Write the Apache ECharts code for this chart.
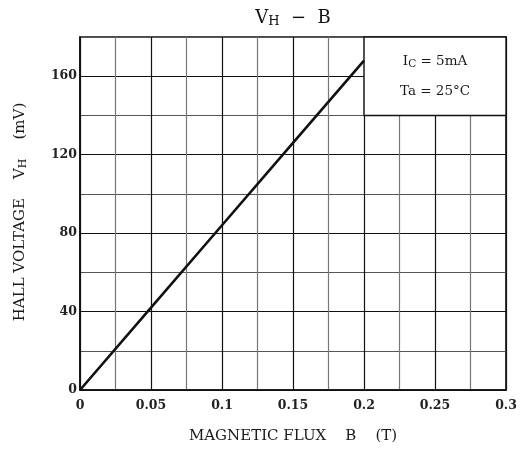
<!DOCTYPE html>
<html><head><meta charset="utf-8">
<script src="https://cdn.jsdelivr.net/npm/echarts@6/dist/echarts.min.js"></script>
<style>html,body{margin:0;padding:0;background:#fff}#c{width:521px;height:450px}</style>
</head><body><div id="c"></div>
<script>
const fluxB = [0, 0.05, 0.1, 0.15, 0.2];
const hallVoltage = [0, 42, 84, 126, 168];
const xTickStep = 0.025;
const yTickStep = 20;
const noteBox = [[0.2, 140], [0.3, 180]];

const F = 'DejaVu Serif';
const chart = echarts.init(document.getElementById('c'));
chart.setOption({
  backgroundColor: '#fff',
  animation: false,
  grid: {left: 80, right: 15, top: 37, bottom: 60, show: true, borderColor: '#111', borderWidth: 1.6, backgroundColor: 'transparent'},
  xAxis: {
    type: 'value', min: 0, max: 0.3, interval: xTickStep,
    axisLine: {show: true, lineStyle: {color: '#111', width: 1.6}},
    axisTick: {show: false},
    axisLabel: {fontFamily: F, fontWeight: 'bold', fontSize: 12.5, color: '#222', margin: 9,
      formatter: v => { const k = v / 0.05; return Math.abs(k - Math.round(k)) < 1e-6 ? String(+v.toFixed(3)) : ''; }},
    splitLine: {show: true, lineStyle: {color: ['#111', '#777'], width: 1.2}}
  },
  yAxis: {
    type: 'value', min: 0, max: 180, interval: yTickStep,
    axisLine: {show: true, lineStyle: {color: '#111', width: 1.6}},
    axisTick: {show: false},
    axisLabel: {fontFamily: F, fontWeight: 'bold', fontSize: 12.5, color: '#222', margin: 3,
      formatter: v => (v % 40 === 0 && v < 180) ? String(v) : ''},
    splitLine: {show: true, lineStyle: {color: ['#111', '#555'], width: 1.2}}
  },
  graphic: [
    {type: 'text', x: 293, y: 18, style: {
      text: '{m|V}{s|H}{m|  −  B}', align: 'center', verticalAlign: 'middle',
      rich: {m: {fontFamily: F, fontSize: 18, fill: '#111'}, s: {fontFamily: F, fontSize: 13, fill: '#111', padding: [8, 0, 0, 0]}}}},
    {type: 'text', x: 293, y: 436, style: {text: 'MAGNETIC FLUX    B    (T)', align: 'center', verticalAlign: 'middle', fontFamily: F, fontSize: 15, fill: '#1a1a1a'}},
    {type: 'text', x: 20, y: 212, rotation: Math.PI / 2, style: {
      text: '{m|HALL VOLTAGE    V}{s|H}{m|    (mV)}', align: 'center', verticalAlign: 'middle',
      rich: {m: {fontFamily: F, fontSize: 15, fill: '#1a1a1a'}, s: {fontFamily: F, fontSize: 11, fill: '#1a1a1a', padding: [6, 0, 0, 0]}}}}
  ],
  series: [{
    type: 'line', data: fluxB.map((b, i) => [b, hallVoltage[i]]),
    showSymbol: false, lineStyle: {color: '#111', width: 2.6}, z: 5,
    markArea: {
      silent: true,
      itemStyle: {color: '#fff', borderColor: '#111', borderWidth: 1.4},
      label: {show: true, position: 'inside', formatter: '{m|I}{s|C}{m| = 5mA}\n{m|Ta = 25°C}',
        lineHeight: 30,
        rich: {m: {fontFamily: F, fontSize: 13.5, color: '#1a1a1a', lineHeight: 30}, s: {fontFamily: F, fontSize: 10.5, color: '#1a1a1a', padding: [6, 0, 0, 0], lineHeight: 30}}},
      data: [[{coord: noteBox[0]}, {coord: noteBox[1]}]]
    }
  }]
});
</script></body></html>
